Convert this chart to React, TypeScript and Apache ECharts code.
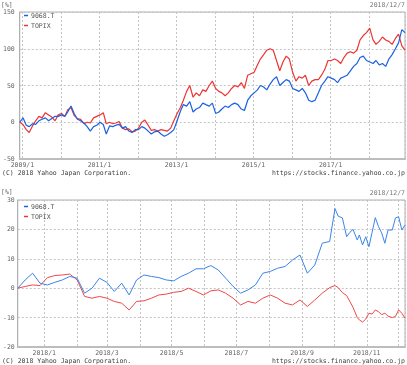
import React, { useEffect, useRef } from "react";
import * as echarts from "echarts";

const seriesNames = ["9068.T", "TOPIX"];

// Long chart: monthly samples from 2008/12/7 to 2018/12/7 (% change)
const longStock = [
  0, 6, -4, -6, -2, -3, 2, 4, 6, 2, 5, 8,
  8, 10, 8, 14, 22, 12, 4, 2, -1, -6, -12, -6,
  -4, 0, -3, -16, -5, -6, -4, -3, -8, -6, -12, -14,
  -10, -10, -6, -8, -12, -16, -13, -12, -16, -19, -17, -14,
  -10, 2, 15, 24, 22, 28, 14, 18, 20, 26, 24, 22,
  26, 12, 14, 18, 22, 20, 24, 26, 24, 18, 16, 30,
  36, 40, 44, 50, 48, 44, 52, 58, 62, 50, 54, 58,
  56, 46, 44, 42, 46, 40, 30, 28, 30, 40, 50, 56,
  62, 60, 58, 54, 60, 62, 64, 70, 76, 80, 88, 90,
  84, 82, 80, 84, 78, 80, 76, 86, 92, 100, 108, 126,
  122,
];
const longTopix = [
  0, -3, -10, -14, -5, 2, 8, 6, 13, 10, 7, 2,
  10, 12, 8, 17, 20, 9, 5, 4, -2, 0, -1, 6,
  8, 10, 13, -2, 0, -2, -1, 1, -8, -10, -9, -13,
  -12, -8, 0, 3, -4, -11, -10, -12, -10, -11, -12, -8,
  2, 12, 20, 30, 42, 50, 34, 40, 36, 44, 42, 50,
  56, 46, 42, 40, 36, 40, 46, 50, 48, 54, 46, 64,
  66, 68, 78, 86, 92, 98, 100, 98, 84, 70, 82, 90,
  86, 68, 56, 62, 60, 64, 50, 56, 58, 58, 64, 72,
  84, 84, 86, 84, 80, 88, 94, 96, 94, 98, 112, 118,
  122, 128, 112, 106, 110, 116, 112, 110, 106, 114, 120, 104,
  98,
];

// Short chart: 2017/12/7 to 2018/12/7 (% change)
const shortDates = [
  "2017-12-07", "2017-12-14", "2017-12-21", "2017-12-28", "2018-01-04", "2018-01-11",
  "2018-01-18", "2018-01-25", "2018-02-01", "2018-02-08", "2018-02-15", "2018-02-22",
  "2018-03-01", "2018-03-08", "2018-03-15", "2018-03-22", "2018-03-29", "2018-04-05",
  "2018-04-12", "2018-04-19", "2018-04-26", "2018-05-03", "2018-05-10", "2018-05-17",
  "2018-05-24", "2018-05-31", "2018-06-07", "2018-06-14", "2018-06-21", "2018-06-28",
  "2018-07-05", "2018-07-12", "2018-07-19", "2018-07-26", "2018-08-02", "2018-08-09",
  "2018-08-16", "2018-08-23", "2018-08-30", "2018-09-06", "2018-09-13", "2018-09-20",
  "2018-09-27", "2018-10-02", "2018-10-05", "2018-10-09", "2018-10-13", "2018-10-16",
  "2018-10-19", "2018-10-23", "2018-10-25", "2018-10-28", "2018-10-31", "2018-11-03",
  "2018-11-06", "2018-11-09", "2018-11-12", "2018-11-15", "2018-11-18", "2018-11-21",
  "2018-11-25", "2018-11-28", "2018-12-01", "2018-12-04", "2018-12-07",
];
const shortStock = [
  0, 2.8, 5.1, 1.7, 1.1, 2, 2.8, 4, 3.4, -1.7, 0, 3.4,
  2, -1.1, 1.7, -2.3, 2.8, 4.5, 4, 3.6, 2.8, 2.5, 4, 5.1,
  6.6, 6.6, 7.7, 6.2, 3.4, 0.6, -1.7, -0.6, 1.1, 5.1, 5.7, 6.8,
  7.4, 9.6, 11.3, 5.1, 7.9, 15.3, 15.9, 27.1, 24.5, 23.9, 17.5, 19,
  20, 16.4, 18.1, 14.7, 17.5, 14.1, 19, 24, 21, 18.8, 15.3, 19.8,
  19.8, 23.9, 24.3, 19.8, 21.5,
];
const shortTopix = [
  0, 0.6, 1.1, 0.9, 3.6, 4.3, 4.5, 4.8, 2.8, -2.8, -3.4, -2.8,
  -3.4, -4.5, -5.1, -7.4, -4.5, -4.3, -3.4, -2.3, -2, -1.4, -1.1, 0,
  -1.1, -2.3, -0.9, -0.6, -1.7, -3.4, -5.7, -4.5, -5.1, -3.4, -2.3, -3.4,
  -5.1, -5.7, -4, -6.2, -4, -1.7, 0.2, 0.9, 0.2, -1.5, -2.5, -4.5,
  -6.5, -10, -10.8, -11.5, -10.5, -8.5, -8.8, -7.4, -8, -9, -8.5, -9.5,
  -10, -9.6, -7.4, -8.5, -10.2,
];

const longY = { min: -50, max: 150, interval: 50 };
const shortY = { min: -20, max: 30, interval: 10 };
const dateLabel = "2018/12/7";

const FONT = "DejaVu Sans Mono";
const BLUE = "#1a62e0";
const RED = "#ee3434";
const BLUE2 = "#3a84ec";
const RED2 = "#f04848";
const DAY = 86400000;

function longTime(i: number) {
  return new Date(2008, 11 + i, 7).getTime();
}
function parseD(s: string) {
  const [y, m, d] = s.split("-").map(Number);
  return new Date(y, m - 1, d).getTime();
}

export default function App() {
  const ref = useRef<HTMLDivElement>(null);
  useEffect(() => {
    if (!ref.current) return;
    const chart = echarts.init(ref.current, null, { renderer: "svg" });
    const longStart = longTime(0);
    const longEnd = longTime(120);
    const shortStart = parseD(shortDates[0]);
    const shortEnd = parseD(shortDates[shortDates.length - 1]);

    const label = { fontSize: 6.5, lineHeight: 7, color: "#666", fontFamily: FONT };
    const splitLine = { show: true, lineStyle: { color: "#c4c4c4", type: [2, 2] as any, width: 1 } };
    const axisLine = { show: true, onZero: false, lineStyle: { color: "#bdbdbd", width: 2 } };

    const xBase = (grid: number, min: number, max: number, iv: number, fmt: (v: number) => string) => ({
      type: "time",
      gridIndex: grid,
      min,
      max,
      minInterval: iv,
      maxInterval: iv,
      axisLine,
      axisTick: { show: false },
      splitLine,
      axisLabel: { ...label, margin: 2, hideOverlap: false, formatter: fmt },
    });

    const yBase = (grid: number, cfg: { min: number; max: number; interval: number }, margin: number) => ({
      type: "value",
      gridIndex: grid,
      min: cfg.min,
      max: cfg.max,
      interval: cfg.interval,
      axisLine: { show: true, onZero: false, lineStyle: { color: "#b0b0b0", width: 1 } },
      axisTick: { show: false },
      splitLine,
      axisLabel: { ...label, margin },
    });

    const longFmt = (v: number) => {
      const d = new Date(v);
      if (d.getMonth() === 0 && d.getDate() === 1 && d.getFullYear() % 2 === 1) return d.getFullYear() + "/1";
      return "";
    };
    const shortFmt = (v: number) => {
      const d = new Date(v);
      if (d.getDate() === 1 && d.getMonth() % 2 === 0 && d.getFullYear() === 2018)
        return "2018/" + (d.getMonth() + 1);
      return "";
    };

    const txt = (x: number, y: number, text: string, align: string = "left", color = "#666") => ({
      type: "text",
      x,
      y,
      style: { text, fontSize: 6.5, lineHeight: 7, fontFamily: FONT, fill: color, align, verticalAlign: "top" },
    });

    const legendCfg = (top: number) => ({
      data: seriesNames,
      orient: "vertical",
      left: 24,
      top,
      icon: "rect",
      itemWidth: 4,
      itemHeight: 1.5,
      itemGap: 3,
      padding: 0,
      textStyle: { fontSize: 6.5, fontFamily: FONT, color: "#555", padding: [0, 0, 0, -2] },
      selectedMode: false,
    });

    const line = (name: string, color: string, xi: number, data: any[], width: number) => ({
      type: "line",
      name,
      xAxisIndex: xi,
      yAxisIndex: xi,
      data,
      showSymbol: false,
      symbol: "none",
      lineStyle: { color, width },
      itemStyle: { color },
      z: name === "TOPIX" ? 2 : 3,
    });

    chart.setOption({
      animation: false,
      textStyle: { fontFamily: FONT },
      grid: [
        { left: 19, right: 2, top: 12, height: 147, show: true, borderColor: "#b0b0b0", borderWidth: 1 },
        { left: 17, right: 2, top: 200, height: 147, show: true, borderColor: "#b0b0b0", borderWidth: 1 },
      ],
      xAxis: [
        xBase(0, longStart, longEnd, 365 * DAY, longFmt),
        xBase(1, shortStart, shortEnd, 31 * DAY, shortFmt),
      ],
      yAxis: [yBase(0, longY, 5), yBase(1, shortY, 3)],
      legend: [legendCfg(12), legendCfg(203)],
      series: [
        line(seriesNames[1], RED, 0, longTopix.map((v, i) => [longTime(i), v]), 1.2),
        line(seriesNames[0], BLUE, 0, longStock.map((v, i) => [longTime(i), v]), 1.2),
        line(seriesNames[1], RED2, 1, shortTopix.map((v, i) => [parseD(shortDates[i]), v]), 1),
        line(seriesNames[0], BLUE2, 1, shortStock.map((v, i) => [parseD(shortDates[i]), v]), 1),
      ],
      graphic: [
        txt(1, 1, "[%]"),
        txt(405, 1, dateLabel, "right", "#777"),
        txt(2, 169, "(C) 2018 Yahoo Japan Corporation.", "left", "#444"),
        txt(405, 169, "https://stocks.finance.yahoo.co.jp", "right", "#444"),
        txt(1, 188, "[%]"),
        txt(405, 189, dateLabel, "right", "#777"),
        txt(2, 357, "(C) 2018 Yahoo Japan Corporation.", "left", "#444"),
        txt(405, 357, "https://stocks.finance.yahoo.co.jp", "right", "#444"),
      ],
    });
    return () => chart.dispose();
  }, []);
  return <div ref={ref} style={{ position: "fixed", left: 0, top: 0, width: 407, height: 365 }} />;
}
